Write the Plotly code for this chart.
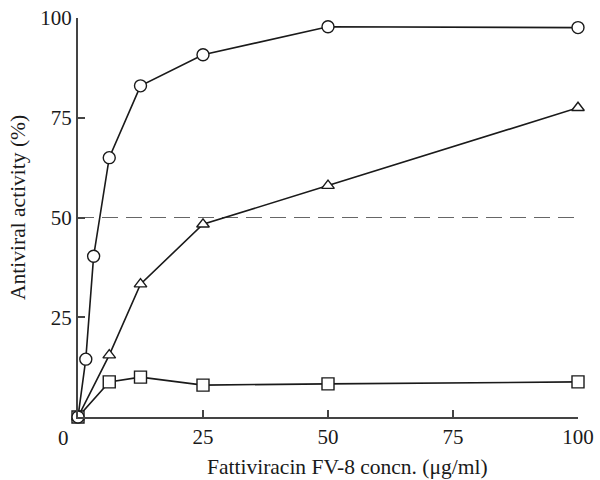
import plotly.graph_objects as go

conc_circle = [0, 1.56, 3.125, 6.25, 12.5, 25, 50, 100]
act_circle = [0, 14.5, 40.3, 65, 83, 90.8, 97.8, 97.6]

conc_triangle = [0, 6.25, 12.5, 25, 50, 100]
act_triangle = [0, 15.5, 33.3, 48.3, 58, 77.5]

conc_square = [0, 6.25, 12.5, 25, 50, 100]
act_square = [0, 8.8, 10, 8, 8.3, 8.8]

ref_x = [0, 100]
ref_y = [50, 50]

x_ticks = [25, 50, 75, 100]
y_ticks = [25, 50, 75, 100]

font_family = "Liberation Serif"
text_col = "#1a1a1a"
line_col = "#1a1a1a"
fs = 21
fs_title = 21.5

fig = go.Figure()

fig.add_trace(go.Scatter(x=ref_x, y=ref_y, mode="lines",
                         line=dict(color="#666666", width=1.2, dash="16px,8px"),
                         hoverinfo="skip", cliponaxis=False))

for xs, ys, sym, sz in [(conc_square, act_square, "square", 12),
                        (conc_triangle, act_triangle, "triangle-up", 11),
                        (conc_circle, act_circle, "circle", 12)]:
    fig.add_trace(go.Scatter(
        x=xs, y=ys, mode="lines+markers", cliponaxis=False,
        line=dict(color=line_col, width=1.6),
        marker=dict(symbol=sym, size=sz, color="white",
                    line=dict(color=line_col, width=1.4)),
    ))

fig.add_annotation(x=0, y=0, xref="x", yref="y", text="0", showarrow=False,
                   xshift=-15, yshift=-21, font=dict(family=font_family, size=fs, color=text_col))
fig.add_annotation(x=0.538, y=-0.125, xref="paper", yref="paper",
                   text="Fattiviracin FV-8 concn. (μg/ml)", showarrow=False,
                   xanchor="center", yanchor="middle",
                   font=dict(family=font_family, size=fs_title, color=text_col))
fig.add_annotation(x=-0.12, y=0.524, xref="paper", yref="paper",
                   text="Antiviral activity (%)", showarrow=False, textangle=-90,
                   xanchor="center", yanchor="middle",
                   font=dict(family=font_family, size=fs_title, color=text_col))

fig.update_layout(
    width=600, height=480,
    margin=dict(l=78, r=22, t=18, b=63, autoexpand=False),
    paper_bgcolor="white", plot_bgcolor="white",
    showlegend=False,
    font=dict(family=font_family, size=fs, color=text_col),
    xaxis=dict(range=[0, 100], tickvals=x_ticks, ticks="inside", ticklen=7,
               tickwidth=1.5, tickcolor="#444", showline=True, linecolor="#444",
               linewidth=2, showgrid=False, zeroline=False, automargin=False,
               tickfont=dict(family=font_family, size=fs, color=text_col)),
    yaxis=dict(range=[0, 100], tickvals=y_ticks, ticks="inside", ticklen=7,
               tickwidth=1.5, tickcolor="#444", showline=True, linecolor="#444",
               linewidth=2, showgrid=False, zeroline=False, automargin=False,
               tickfont=dict(family=font_family, size=fs, color=text_col)),
)

fig.write_html("out.html")
